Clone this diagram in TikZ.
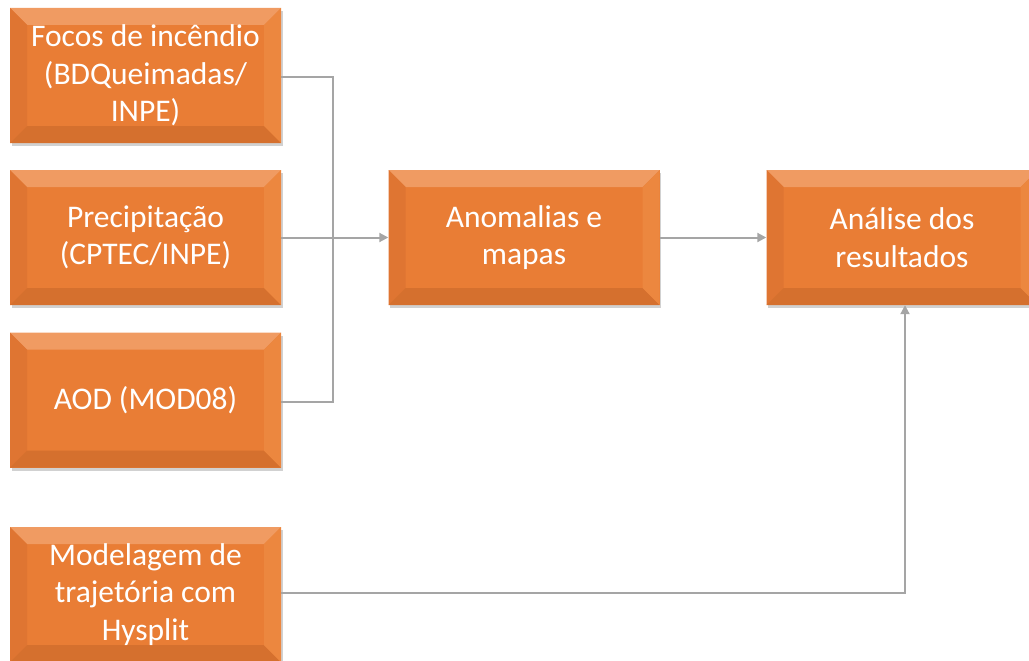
\documentclass[tikz,border=0pt]{standalone}
\usepackage{fontspec}
\setmainfont{Carlito}
\usetikzlibrary{shadows,arrows.meta}
\definecolor{orMain}{HTML}{E97D35}
\definecolor{orTop}{HTML}{F09B62}
\definecolor{orLeft}{HTML}{DF7532}
\definecolor{orBot}{HTML}{D5702E}
\definecolor{orRight}{HTML}{EC873F}
\definecolor{lineGray}{HTML}{A5A5A5}
\newcommand{\bvl}{17pt}
\tikzset{
  bevelbox/.style={
    minimum width=271pt, minimum height=135pt, inner sep=0pt,
    fill=orMain, text=white, align=center,
    font=\fontsize{31.5}{37.5}\selectfont,
    drop shadow={opacity=0.3, shadow xshift=1.5pt, shadow yshift=-3pt, fill=black!60},
    path picture={
      \fill[orTop] (path picture bounding box.north west) -- (path picture bounding box.north east)
        -- ([xshift=-\bvl,yshift=-\bvl]path picture bounding box.north east)
        -- ([xshift=\bvl,yshift=-\bvl]path picture bounding box.north west) -- cycle;
      \fill[orLeft] (path picture bounding box.north west) -- (path picture bounding box.south west)
        -- ([xshift=\bvl,yshift=\bvl]path picture bounding box.south west)
        -- ([xshift=\bvl,yshift=-\bvl]path picture bounding box.north west) -- cycle;
      \fill[orBot] (path picture bounding box.south west) -- (path picture bounding box.south east)
        -- ([xshift=-\bvl,yshift=\bvl]path picture bounding box.south east)
        -- ([xshift=\bvl,yshift=\bvl]path picture bounding box.south west) -- cycle;
      \fill[orRight] (path picture bounding box.north east) -- (path picture bounding box.south east)
        -- ([xshift=-\bvl,yshift=\bvl]path picture bounding box.south east)
        -- ([xshift=-\bvl,yshift=-\bvl]path picture bounding box.north east) -- cycle;
    }
  },
  conn/.style={draw=lineGray, line width=2pt},
  arr/.style={conn, -{Triangle[length=9pt,width=9pt]}}
}
\begin{document}
\begin{tikzpicture}[x=1pt,y=-1pt]
\useasboundingbox (0,0) rectangle (1029,661);
\node[bevelbox] (focos) at (145.5,75.5) {Focos de incêndio\\(BDQueimadas/\\INPE)};
\node[bevelbox] (prec) at (145.5,237.5) {Precipitação\\(CPTEC/INPE)};
\node[bevelbox] (aod) at (145.5,400) {AOD (MOD08)};
\node[bevelbox] (model) at (145.5,594.5) {Modelagem de\\trajetória com\\Hysplit};
\node[bevelbox] (anom) at (524,237.5) {Anomalias e\\mapas};
\node[bevelbox] (anal) at (902,237.5) {Análise dos\\resultados};
\coordinate (j) at (333,237.5);
\draw[conn] ([yshift=-2pt]focos.east) -| (j);
\draw[conn] ([yshift=-2pt]aod.east) -| (j);
\draw[arr] (prec.east) -- (anom.west);
\draw[arr] (anom.east) -- (anal.west);
\draw[arr] ([yshift=2pt]model.east) -| ([xshift=3pt]anal.south);
\end{tikzpicture}
\end{document}
